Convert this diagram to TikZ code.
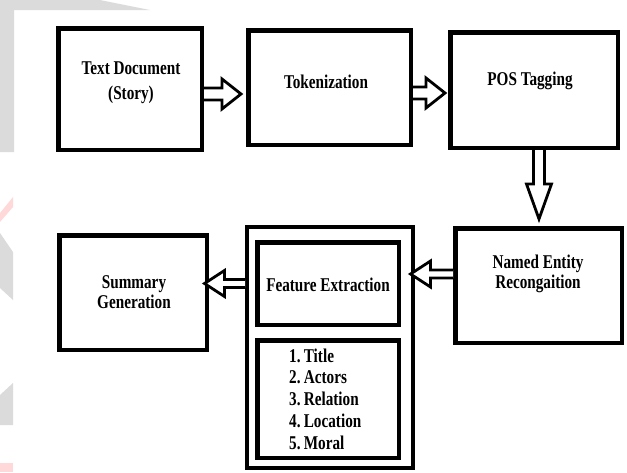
\documentclass[tikz,border=0pt]{standalone}
\usepackage{fontspec}
\setmainfont{Liberation Serif}[FakeStretch=0.78]
\usetikzlibrary{calc,positioning}

\tikzset{
  stage/.style={draw, line width=4.5pt, inner sep=0pt},
  stagetext/.style={font=\bfseries\fontsize{19.5}{20}\selectfont, align=center, inner sep=0pt},
  arrowline/.style={draw, fill=white, line width=2.8pt, line join=miter},
  watermark/.style={fill=gray!28, draw=none},
}

% hollow block arrow: start, tip, shaft half width, head half width, head length
\newcommand{\flowarrow}[5]{%
  \path ($(#2)!#5!(#1)$) coordinate (fa-base);
  \draw[arrowline] ($(#1)!#3!90:(#2)$) -- ($(fa-base)!#3!-90:(#1)$)
    -- ($(fa-base)!#4!-90:(#1)$) -- (#2) -- ($(fa-base)!#4!90:(#1)$)
    -- ($(fa-base)!#3!90:(#1)$) -- ($(#1)!#3!-90:(#2)$);
}

\begin{document}
\begin{tikzpicture}[x=1pt, y=-1pt]
    \useasboundingbox (0,0) rectangle (627,472);

    % Watermark pieces on the left
    \fill[watermark] (0,0) -- (100,0) -- (150,10) -- (14,10) -- (14,152) -- (0,152) -- cycle;
    \fill[red!15] (0,213) -- (13,197) -- (13,207) -- (0,222) -- cycle;
    \fill[watermark] (0,233) -- (13,252) -- (13,300) -- (0,288) -- cycle;
    \fill[watermark] (0,395) -- (13,383) -- (13,425) -- (0,425) -- cycle;
    \fill[red!15] (0,463) rectangle (13,472);

    % Top row
    \node[stage, minimum width=143.5pt, minimum height=121.5pt] (doc) at (130,89) {};
    \node[stage, minimum width=162.5pt, minimum height=114.5pt] (tok) at (329.5,87.5) {};
    \node[stage, minimum width=167.5pt, minimum height=115.5pt] (pos) at (534,90) {};
    \node[stagetext, font=\bfseries\fontsize{19.5}{25}\selectfont] (doctext) at (131,83) {Text Document\\(Story)};
    \node[stagetext] (toktext) at (326,82) {Tokenization};
    \node[stagetext] (postext) at (530,81) {POS Tagging};

    % Bottom row
    \node[stage, minimum width=166.5pt, minimum height=114.5pt] (ner) at (538.5,285.5) {};
    \node[stage, minimum width=147.5pt, minimum height=114.5pt] (summary) at (133,292.5) {};
    \node[stage, line width=4pt, minimum width=166pt, minimum height=241pt] (feouter) at (330,347.5) {};
    \node[stage, minimum width=141.5pt, minimum height=82.5pt] (fe) at (328,283.5) {};
    \node[stage, minimum width=141.5pt, minimum height=117.5pt] (list) at (328,399) {};
    \node[stagetext] (nertext) at (538,274) {Named Entity\\Recongaition};
    \node[stagetext] (summarytext) at (134,292) {Summary\\Generation};
    \node[stagetext] (fetext) at (328,285) {Feature Extraction};
    \node[stagetext, align=left, anchor=west, font=\bfseries\fontsize{19.5}{21.7}\selectfont] (listtext) at (289,399)
        {1.\,Title\\2.\,Actors\\3.\,Relation\\4.\,Location\\5.\,Moral};

    % Arrows
    \coordinate (a1s) at ($(doc.east)+(0,5)$);
    \coordinate (a1t) at ($(a1s -| tok.west)+(-5,0)$);
    \flowarrow{a1s}{a1t}{6pt}{15pt}{19pt}
    \coordinate (a2s) at ($(tok.east)+(0,5.5)$);
    \coordinate (a2t) at ($(a2s -| pos.west)+(-3,0)$);
    \flowarrow{a2s}{a2t}{6pt}{15pt}{19pt}
    \coordinate (a3s) at ($(pos.south)+(5,0)$);
    \coordinate (a3t) at ($(a3s |- ner.north)+(0,-7)$);
    \flowarrow{a3s}{a3t}{5.5pt}{12.5pt}{35pt}
    \coordinate (a4s) at ($(ner.west)+(0,-11.5)$);
    \coordinate (a4t) at ($(a4s -| feouter.east)+(-4.5,0)$);
    \flowarrow{a4s}{a4t}{4pt}{13pt}{20pt}
    \coordinate (a5s) at (feouter.west |- fe.west);
    \coordinate (a5t) at ($(a5s -| summary.east)+(-4.5,0)$);
    \flowarrow{a5s}{a5t}{4pt}{13pt}{20pt}
\end{tikzpicture}
\end{document}
